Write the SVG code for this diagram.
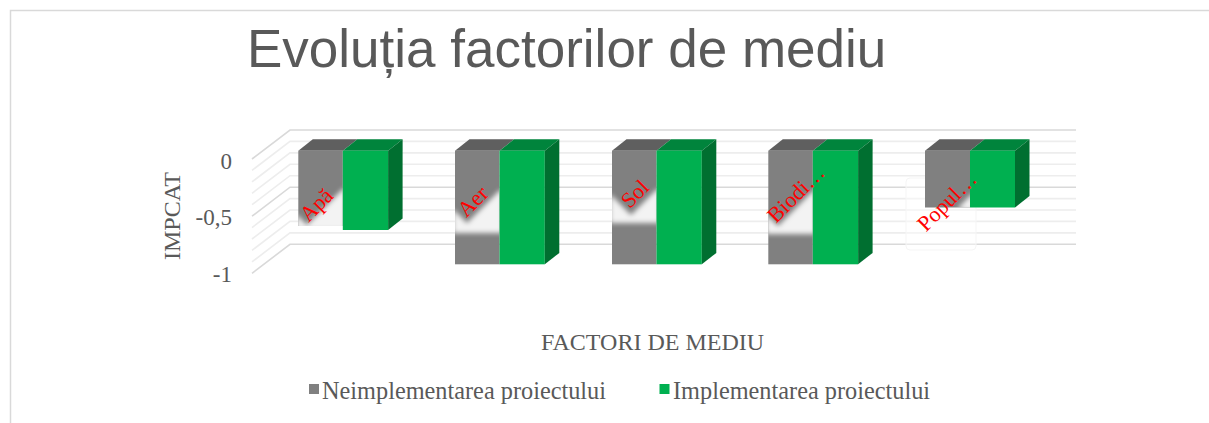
<svg xmlns="http://www.w3.org/2000/svg" width="1209" height="423" viewBox="0 0 1209 423">
<style>
.serif{font-family:"Liberation Serif","Times New Roman",serif;fill:#595959}
.grid-major{stroke:#d9d9d9;stroke-width:1.6;fill:none}
.grid-minor{stroke:#ededed;stroke-width:1.6;fill:none}
.gfront{fill:#808080}.gtop{fill:#5f5f5f}
.nfront{fill:#00b050}.ntop{fill:#00843c}.nside{fill:#006f30}
.lbl{font-family:"Liberation Serif","Times New Roman",serif;font-size:22px;fill:#ff0000}
.glow{fill:#ffffff;opacity:0.9;filter:url(#blur)}
</style>
<defs>
<filter id="blur" x="-30%" y="-30%" width="160%" height="160%"><feGaussianBlur stdDeviation="2.4"/></filter>
<clipPath id="c1"><rect x="298.3" y="150" width="44.5" height="76"/></clipPath>
<clipPath id="c2"><rect x="455" y="150" width="44.5" height="115"/></clipPath>
<clipPath id="c3"><rect x="612" y="150" width="44.5" height="115"/></clipPath>
<clipPath id="c4"><rect x="768.3" y="150" width="44.5" height="115"/></clipPath>
<clipPath id="c5"><rect x="925" y="150" width="45" height="57.5"/></clipPath>
</defs>
<rect x="0" y="0" width="1209" height="423" fill="#ffffff"/>
<rect id="frame" x="10.5" y="10.5" width="1220" height="430" fill="none" stroke="#d9d9d9" stroke-width="1.5"/>
<text id="title" x="247" y="67" font-family="'Liberation Sans',Arial,sans-serif" font-size="53" fill="#595959">Evoluția factorilor de mediu</text>

<g id="gridlines">
<polyline class="grid-major" points="252,159 290,130 1076,130"/>
<polyline class="grid-minor" points="252,170.4 290,141.4 1076,141.4"/>
<polyline class="grid-minor" points="252,181.9 290,152.9 1076,152.9"/>
<polyline class="grid-minor" points="252,193.3 290,164.3 1076,164.3"/>
<polyline class="grid-minor" points="252,204.7 290,175.7 1076,175.7"/>
<polyline class="grid-major" points="252,216.2 290,187.2 1076,187.2"/>
<polyline class="grid-minor" points="252,227.6 290,198.6 1076,198.6"/>
<polyline class="grid-minor" points="252,239 290,210 1076,210"/>
<polyline class="grid-minor" points="252,250.4 290,221.4 1076,221.4"/>
<polyline class="grid-minor" points="252,261.9 290,232.9 1076,232.9"/>
<polyline class="grid-major" points="252,273.3 290,244.3 1076,244.3"/>
</g>

<g id="axis-y">
<text class="serif" x="232" y="169" font-size="23" text-anchor="end">0</text>
<text class="serif" x="232" y="224.5" font-size="23" text-anchor="end">-0,5</text>
<text class="serif" x="232" y="281.5" font-size="23" text-anchor="end">-1</text>
<text class="serif" transform="translate(180,216) rotate(-90)" font-size="24" text-anchor="middle">IMPCAT</text>
</g>

<g id="faint-box">
<rect x="906" y="178" width="70" height="72" rx="4" fill="#ffffff" fill-opacity="0.4" stroke="#f5f5f5" stroke-width="1"/>
</g>

<g id="bar-apa">
<polygon class="gtop" points="298.3,150.7 312.8,139.3 357.3,139.3 342.8,150.7"/>
<rect class="gfront" x="298.3" y="150.7" width="44.5" height="75.3"/>
<g clip-path="url(#c1)"><polygon class="glow" points="296,214 307,225 342.8,189 346,189 346,230 296,230"/></g>
<polygon class="ntop" points="342.8,150.7 357.3,139.3 402.6,139.3 388.1,150.7"/>
<rect class="nfront" x="342.8" y="150.7" width="45.3" height="79.3"/>
<polygon class="nside" points="388.1,150.7 402.6,139.3 402.6,218.6 388.1,230"/>
<text class="lbl" transform="translate(321.5,210) rotate(-45)" text-anchor="middle">Apă</text>
</g>

<g id="bar-aer">
<polygon class="gtop" points="455,150.7 469.5,139.3 514,139.3 499.5,150.7"/>
<rect class="gfront" x="455" y="150.7" width="44.5" height="113.6"/>
<g clip-path="url(#c2)"><polygon class="glow" points="453,209 467,223 499.5,190.5 503,190.5 503,233 453,233"/></g>
<polygon class="ntop" points="499.5,150.7 514,139.3 559.3,139.3 544.8,150.7"/>
<rect class="nfront" x="499.5" y="150.7" width="45.3" height="113.6"/>
<polygon class="nside" points="544.8,150.7 559.3,139.3 559.3,252.9 544.8,264.3"/>
<text class="lbl" transform="translate(478,206.5) rotate(-45)" text-anchor="middle">Aer</text>
</g>

<g id="bar-sol">
<polygon class="gtop" points="612,150.7 626.5,139.3 671,139.3 656.5,150.7"/>
<rect class="gfront" x="612" y="150.7" width="44.5" height="113.6"/>
<g clip-path="url(#c3)"><polygon class="glow" points="610,194 631,215 656.5,189.5 660,189.5 660,223 610,223"/></g>
<polygon class="ntop" points="656.5,150.7 671,139.3 716.3,139.3 701.8,150.7"/>
<rect class="nfront" x="656.5" y="150.7" width="45.3" height="113.6"/>
<polygon class="nside" points="701.8,150.7 716.3,139.3 716.3,252.9 701.8,264.3"/>
<text class="lbl" transform="translate(640,199) rotate(-45)" text-anchor="middle">Sol</text>
</g>

<g id="bar-biodi">
<polygon class="gtop" points="768.3,150.7 782.8,139.3 827.3,139.3 812.8,150.7"/>
<rect class="gfront" x="768.3" y="150.7" width="44.5" height="113.6"/>
<g clip-path="url(#c4)"><polygon class="glow" points="766,214 778,226 812.8,191 816,191 816,234 766,234"/></g>
<polygon class="ntop" points="812.8,150.7 827.3,139.3 872.6,139.3 858.1,150.7"/>
<rect class="nfront" x="812.8" y="150.7" width="45.3" height="113.6"/>
<polygon class="nside" points="858.1,150.7 872.6,139.3 872.6,252.9 858.1,264.3"/>
<text class="lbl" transform="translate(801,199) rotate(-45)" text-anchor="middle">Biodi…</text>
</g>

<g id="bar-popul">
<polygon class="gtop" points="925,150.7 939.5,139.3 984.5,139.3 970,150.7"/>
<rect class="gfront" x="925" y="150.7" width="45" height="56.8"/>
<g clip-path="url(#c5)"><polygon class="glow" points="957,209 972,194 974,194 974,211"/></g>
<polygon class="ntop" points="970,150.7 984.5,139.3 1029.5,139.3 1015,150.7"/>
<rect class="nfront" x="970" y="150.7" width="45" height="56.8"/>
<polygon class="nside" points="1015,150.7 1029.5,139.3 1029.5,196.1 1015,207.5"/>
<text class="lbl" transform="translate(952,206.5) rotate(-45)" text-anchor="middle">Popul…</text>
</g>

<g id="axis-x">
<text class="serif" x="652.5" y="350" font-size="24" text-anchor="middle">FACTORI DE MEDIU</text>
</g>

<g id="legend">
<rect x="309" y="384" width="10" height="10" fill="#808080"/>
<text class="serif" x="322" y="399" font-size="24.3">Neimplementarea proiectului</text>
<rect x="659.5" y="384" width="10" height="10" fill="#00b050"/>
<text class="serif" x="673" y="399" font-size="24.3">Implementarea proiectului</text>
</g>
</svg>
